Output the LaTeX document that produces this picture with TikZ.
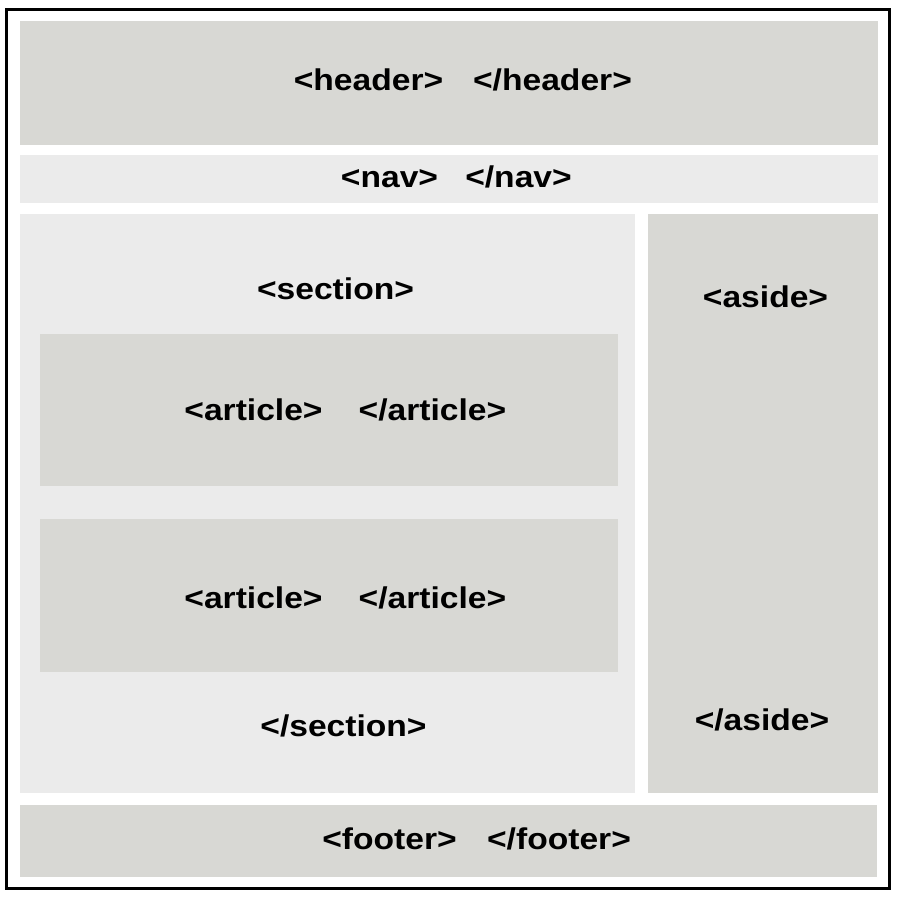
\documentclass[tikz,border=0pt]{standalone}
\usepackage{fontspec}
\setmainfont{Liberation Sans}[FakeStretch=1.12]
\definecolor{boxdark}{RGB}{216,216,212}
\definecolor{boxlight}{RGB}{235,235,235}
\tikzset{tag/.style={font=\fontsize{30}{36}\selectfont\bfseries, anchor=base, inner sep=0pt, text=black}}
\begin{document}
\begin{tikzpicture}[x=1pt, y=-1pt]
			\useasboundingbox (0, 0) rectangle (900, 897);
			\fill[white] (0, 0) rectangle (900, 897);
			\draw[line width=3pt] (6.5, 9.5) rectangle (889, 888.5);
			% blocks
			\fill[boxdark] (20, 21) rectangle (878, 145); % header
			\fill[boxlight] (20, 155) rectangle (878, 203); % nav
			\fill[boxlight] (20, 214) rectangle (635, 793); % section
			\fill[boxdark] (648, 214) rectangle (878, 793); % aside
			\fill[boxdark] (40, 334) rectangle (618, 486); % article
			\fill[boxdark] (40, 519) rectangle (618, 672); % article
			\fill[boxdark] (20, 805) rectangle (877, 877); % footer
			% tags
			\node[tag] (headeropen) at (368.5, 90) {<header>};
			\node[tag] (headerclose) at (552.5, 90) {</header>};
			\node[tag] (navopen) at (389.5, 187) {<nav>};
			\node[tag] (navclose) at (518.5, 187) {</nav>};
			\node[tag] (sectionopen) at (335.5, 299) {<section>};
			\node[tag] (asideopen) at (765.5, 307) {<aside>};
			\node[tag] (articleopen1) at (253.5, 420) {<article>};
			\node[tag] (articleclose1) at (432.5, 420) {</article>};
			\node[tag] (articleopen2) at (253.5, 608) {<article>};
			\node[tag] (articleclose2) at (432.5, 608) {</article>};
			\node[tag] (sectionclose) at (343.5, 736) {</section>};
			\node[tag] (asideclose) at (762, 730) {</aside>};
			\node[tag] (footeropen) at (389.5, 849) {<footer>};
			\node[tag] (footerclose) at (559, 849) {</footer>};
		\end{tikzpicture}
\end{document}
